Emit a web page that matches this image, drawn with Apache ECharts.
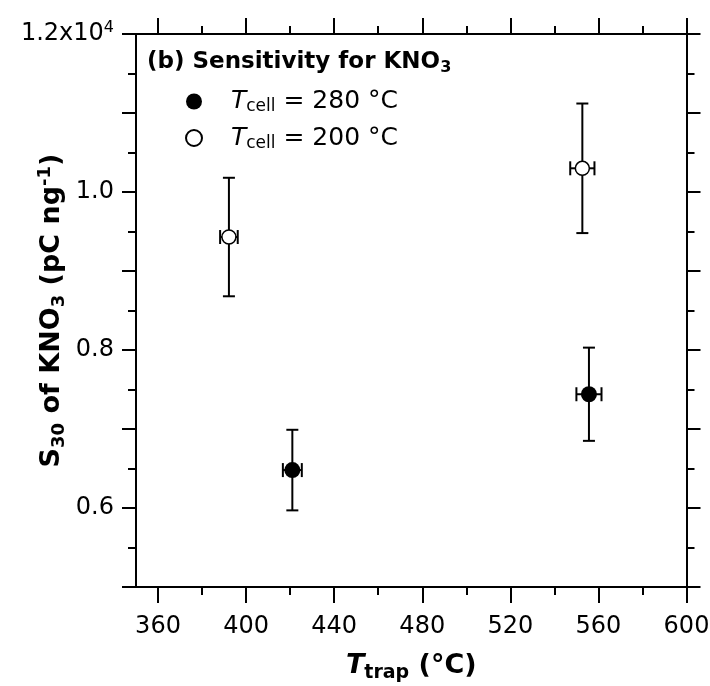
<!DOCTYPE html>
<html><head><meta charset="utf-8">
<script src="https://cdn.jsdelivr.net/npm/echarts@6/dist/echarts.min.js"></script>
<style>html,body{margin:0;padding:0;background:#fff}#c{width:710px;height:686px}</style>
</head><body><div id="c"></div>
<script>
const FONT = 'DejaVu Sans';
// T_cell = 280 °C (filled circles)
const hotTrap = [421.0, 555.7];
const hotS = [6480, 7440];
const hotSErr = [510, 590];
const hotTrapErr = [4.3, 5.7];
// T_cell = 200 °C (open circles)
const coolTrap = [392.2, 552.7];
const coolS = [9430, 10300];
const coolSErr = [750, 820];
const coolTrapErr = [4.0, 5.5];

const legendLabels = ['280', '200'];
const xMajorTicks = [360, 400, 440, 480, 520, 560, 600];
const xMinorTicks = [380, 420, 460, 500, 540, 580];
const yLabelValues = [6000, 8000, 10000, 12000];
const yTickLabels = ['0.6', '0.8', '1.0', '1.2x10'];

const chart = echarts.init(document.getElementById('c'), null, {renderer: 'canvas'});
const black = '#000';
const axisLine = {show: true, onZero: false, lineStyle: {color: black, width: 2}};

function errSeries(xs, ys, xe, ye) {
  return {
    type: 'custom', xAxisIndex: 0, yAxisIndex: 0, z: 2, silent: true,
    data: xs.map((x, i) => [x, ys[i], xe[i], ye[i]]),
    renderItem(params, api) {
      const x = api.value(0), y = api.value(1), ex = api.value(2), ey = api.value(3);
      const top = api.coord([x, y + ey]), bot = api.coord([x, y - ey]);
      const lft = api.coord([x - ex, y]), rgt = api.coord([x + ex, y]);
      const cw = 6, ch = 7;
      const st = {stroke: black, lineWidth: 2};
      const L = (x1, y1, x2, y2) => ({type: 'line', shape: {x1, y1, x2, y2}, style: st});
      return {type: 'group', children: [
        L(top[0], top[1], bot[0], bot[1]),
        L(top[0] - cw, top[1], top[0] + cw, top[1]),
        L(bot[0] - cw, bot[1], bot[0] + cw, bot[1]),
        L(lft[0], lft[1], rgt[0], rgt[1]),
        L(lft[0], lft[1] - ch, lft[0], lft[1] + ch),
        L(rgt[0], rgt[1] - ch, rgt[0], rgt[1] + ch)
      ]};
    }
  };
}

function xAxisDef(pos, ticks, len, showLine, showLabel) {
  return {
    type: 'value', min: 350, max: 600, position: pos,
    axisLine: showLine ? axisLine : {show: false},
    splitLine: {show: false},
    axisTick: {show: true, customValues: ticks, length: len, lineStyle: {color: black, width: 2}},
    axisLabel: showLabel ? {show: true, customValues: ticks, margin: 28, color: black, fontFamily: FONT, fontSize: 24} : {show: false},
    name: showLabel ? '{i|T}{s|trap}{b| (°C)}' : '',
    nameLocation: 'middle', nameGap: 62, nameMoveOverlap: false,
    nameTextStyle: {rich: {
      i: {fontFamily: FONT, fontSize: 27, fontWeight: 'bold', fontStyle: 'italic', color: black, lineHeight: 34},
      s: {fontFamily: FONT, fontSize: 19, fontWeight: 'bold', color: black, lineHeight: 8, verticalAlign: 'bottom'},
      b: {fontFamily: FONT, fontSize: 27, fontWeight: 'bold', color: black, lineHeight: 34}
    }}
  };
}

function yAxisDef(pos, showLabel) {
  return {
    type: 'value', min: 5000, max: 12000, interval: 1000, position: pos,
    axisLine: axisLine, splitLine: {show: false},
    axisTick: {show: true, length: 14, lineStyle: {color: black, width: 2}},
    minorTick: {show: true, splitNumber: 2, length: 8, lineStyle: {color: black, width: 2}},
    axisLabel: showLabel ? {
      show: true, margin: 22, color: black, fontFamily: FONT, fontSize: 24,
      formatter: v => {
        const k = yLabelValues.indexOf(v);
        if (k < 0) return '';
        return k === yLabelValues.length - 1 ? '{n|' + yTickLabels[k] + '}{p|4}' : '{n|' + yTickLabels[k] + '}';
      },
      rich: {
        n: {fontFamily: FONT, fontSize: 24, color: black, lineHeight: 28},
        p: {fontFamily: FONT, fontSize: 16, color: black, lineHeight: 8, verticalAlign: 'top'}
      }
    } : {show: false},
    name: showLabel ? '{b|S}{s|30}{b| of KNO}{s|3}{b| (pC ng}{p|-1}{b|)}' : '',
    nameLocation: 'middle', nameRotate: 90, nameGap: 68, nameMoveOverlap: false,
    nameTextStyle: {rich: {
      b: {fontFamily: FONT, fontSize: 27, fontWeight: 'bold', color: black, lineHeight: 32},
      s: {fontFamily: FONT, fontSize: 18, fontWeight: 'bold', color: black, lineHeight: 8, verticalAlign: 'bottom'},
      p: {fontFamily: FONT, fontSize: 18, fontWeight: 'bold', color: black, lineHeight: 8, verticalAlign: 'top'}
    }}
  };
}

chart.setOption({
  animation: false,
  backgroundColor: '#fff',
  grid: {left: 136, right: 23.5, top: 34, bottom: 99, containLabel: false, outerBoundsMode: 'none'},
  title: {
    text: '{b|(b) Sensitivity for KNO}{s|3}', left: 147, top: 48, padding: 0,
    textStyle: {rich: {
      b: {fontFamily: FONT, fontSize: 23, fontWeight: 'bold', color: black, lineHeight: 28},
      s: {fontFamily: FONT, fontSize: 16, fontWeight: 'bold', color: black, lineHeight: 6, verticalAlign: 'bottom'}
    }}
  },
  legend: {
    orient: 'vertical', left: 185, top: 89, padding: 0,
    itemWidth: 16, itemHeight: 16, itemGap: 10, selectedMode: false,
    data: legendLabels,
    formatter: n => '{g| }{i|T}{s|cell}{n| = ' + n + ' °C}',
    textStyle: {rich: {
      g: {width: 24, lineHeight: 28, fontSize: 25},
      i: {fontFamily: FONT, fontSize: 25, fontStyle: 'italic', color: black, lineHeight: 28},
      s: {fontFamily: FONT, fontSize: 17, color: black, lineHeight: 6, verticalAlign: 'bottom'},
      n: {fontFamily: FONT, fontSize: 25, color: black, lineHeight: 28}
    }}
  },
  xAxis: [
    xAxisDef('bottom', xMajorTicks, 16, true, true),
    xAxisDef('bottom', xMinorTicks, 8, false, false),
    xAxisDef('top', xMajorTicks, 16, true, false),
    xAxisDef('top', xMinorTicks, 8, false, false)
  ],
  yAxis: [yAxisDef('left', true), yAxisDef('right', false)],
  series: [
    errSeries(hotTrap, hotS, hotTrapErr, hotSErr),
    errSeries(coolTrap, coolS, coolTrapErr, coolSErr),
    {
      name: legendLabels[0], type: 'scatter', xAxisIndex: 0, yAxisIndex: 0, z: 3,
      symbol: 'circle', symbolSize: 16,
      itemStyle: {color: black, opacity: 1},
      data: hotTrap.map((x, i) => [x, hotS[i]])
    },
    {
      name: legendLabels[1], type: 'scatter', xAxisIndex: 0, yAxisIndex: 0, z: 3,
      symbol: 'circle', symbolSize: 14,
      itemStyle: {color: '#fff', borderColor: black, borderWidth: 1.5, opacity: 1},
      data: coolTrap.map((x, i) => [x, coolS[i]])
    }
  ]
});
</script>
</body></html>
